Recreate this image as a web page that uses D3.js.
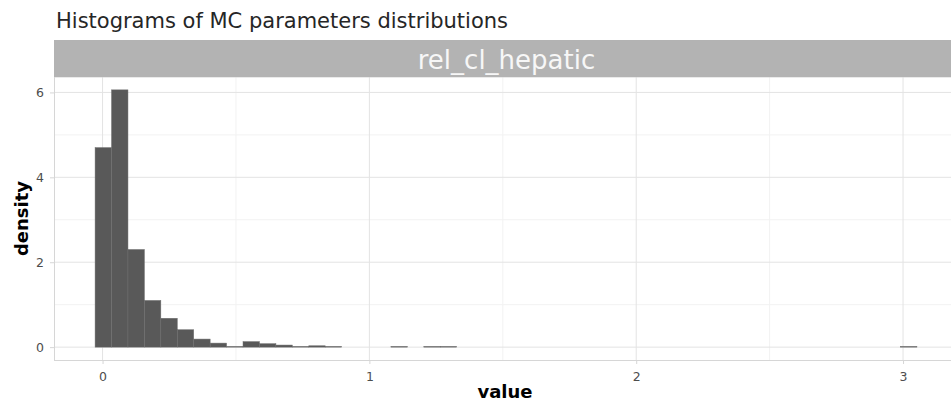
<!DOCTYPE html>
<html>
<head>
<meta charset="utf-8">
<title>Histograms of MC parameters distributions</title>
<script src="https://cdn.jsdelivr.net/npm/d3@7"></script>
<style>
body { margin: 0; background: #fff; }
svg text { font-family: "DejaVu Sans", sans-serif; }
.tick-label { fill: #4d4d4d; font-size: 12.5px; }
.axis-title { fill: #000; font-size: 18px; font-weight: bold; }
</style>
</head>
<body>
<script>
// histogram bins (left edge) and their density
var binWidth = 0.0616;
var binLeft = [-0.028, 0.0336, 0.0952, 0.1568, 0.2184, 0.280, 0.3416, 0.4032, 0.4648,
               0.5264, 0.588, 0.6496, 0.7112, 0.7728, 0.8344, 1.0808, 1.204, 1.2656, 2.9904];
var density = [4.70, 6.06, 2.30, 1.10, 0.68, 0.41, 0.19, 0.095, 0.016,
               0.13, 0.081, 0.049, 0.016, 0.032, 0.016, 0.016, 0.016, 0.016, 0.016];

var xTicks = [0, 1, 2, 3];
var xMinor = [0.5, 1.5, 2.5];
var yTicks = [0, 2, 4, 6];
var yMinor = [1, 3, 5];
var facetLabel = "rel_cl_hepatic";

var W = 951, H = 401;
var panel = {left: 54, right: 958, top: 77, bottom: 360};
var stripTop = 40;

var svg = d3.select("body").append("svg")
    .attr("width", W)
    .attr("height", H);

// ggplot-like 5% expansion
var xlo = d3.min(binLeft), xhi = d3.max(binLeft) + binWidth;
var xpad = (xhi - xlo) * 0.05;
var xScale = d3.scaleLinear()
    .domain([xlo - xpad, xhi + xpad])
    .range([panel.left, panel.right]);

var ymax = d3.max(density);
var ypad = ymax * 0.05;
var yScale = d3.scaleLinear()
    .domain([-ypad, ymax + ypad])
    .range([panel.bottom, panel.top]);

// title
svg.append("text")
    .attr("x", 56)
    .attr("y", 28)
    .style("font-size", "21px")
    .style("fill", "#262626")
    .text("Histograms of MC parameters distributions");

// grid
var g = svg.append("g");
g.selectAll(".xminor").data(xMinor).enter().append("line")
    .attr("x1", function(d) { return xScale(d); })
    .attr("x2", function(d) { return xScale(d); })
    .attr("y1", panel.top).attr("y2", panel.bottom)
    .attr("stroke", "#f2f2f2").attr("stroke-width", 1);
g.selectAll(".yminor").data(yMinor).enter().append("line")
    .attr("y1", function(d) { return yScale(d); })
    .attr("y2", function(d) { return yScale(d); })
    .attr("x1", panel.left).attr("x2", panel.right)
    .attr("stroke", "#f2f2f2").attr("stroke-width", 1);
g.selectAll(".xmajor").data(xTicks).enter().append("line")
    .attr("x1", function(d) { return xScale(d); })
    .attr("x2", function(d) { return xScale(d); })
    .attr("y1", panel.top).attr("y2", panel.bottom)
    .attr("stroke", "#e3e3e3").attr("stroke-width", 1);
g.selectAll(".ymajor").data(yTicks).enter().append("line")
    .attr("y1", function(d) { return yScale(d); })
    .attr("y2", function(d) { return yScale(d); })
    .attr("x1", panel.left).attr("x2", panel.right)
    .attr("stroke", "#e3e3e3").attr("stroke-width", 1);

// bars
svg.append("g").selectAll("rect")
    .data(binLeft)
    .enter().append("rect")
    .attr("x", function(d) { return xScale(d); })
    .attr("width", function(d) { return xScale(d + binWidth) - xScale(d); })
    .attr("y", function(d, i) { return yScale(density[i]); })
    .attr("height", function(d, i) { return yScale(0) - yScale(density[i]); })
    .attr("fill", "#595959")
    .attr("stroke", "#6e6e6e")
    .attr("stroke-width", 0.5);

// panel border (left + bottom visible, right is cut off)
svg.append("rect")
    .attr("x", panel.left + 0.5)
    .attr("y", panel.top)
    .attr("width", panel.right - panel.left)
    .attr("height", panel.bottom - panel.top + 0.5)
    .attr("fill", "none")
    .attr("stroke", "#d6d6d6")
    .attr("stroke-width", 1);

// strip
svg.append("rect")
    .attr("x", panel.left)
    .attr("y", stripTop)
    .attr("width", panel.right - panel.left)
    .attr("height", panel.top - stripTop)
    .attr("fill", "#b3b3b3");
svg.append("text")
    .attr("x", 506.5)
    .attr("y", 68.5)
    .attr("text-anchor", "middle")
    .style("font-size", "26px")
    .style("fill", "#f7f7f7")
    .text(facetLabel);

// axes
var xAxis = svg.append("g")
    .attr("transform", "translate(0," + panel.bottom + ")")
    .call(d3.axisBottom(xScale).tickValues(xTicks).tickSize(4).tickPadding(8).tickFormat(d3.format("d")));
var yAxis = svg.append("g")
    .attr("transform", "translate(" + panel.left + ",0)")
    .call(d3.axisLeft(yScale).tickValues(yTicks).tickSize(4).tickPadding(6).tickFormat(d3.format("d")));
[xAxis, yAxis].forEach(function(ax) {
  ax.select(".domain").remove();
  ax.selectAll(".tick line").attr("stroke", "#d6d6d6");
  ax.selectAll(".tick text").attr("class", "tick-label")
    .style("font-family", "DejaVu Sans, sans-serif");
  ax.attr("font-size", null).attr("font-family", null);
});

// axis titles
svg.append("text")
    .attr("class", "axis-title")
    .attr("x", 505)
    .attr("y", 398)
    .attr("text-anchor", "middle")
    .text("value");
svg.append("text")
    .attr("class", "axis-title")
    .attr("transform", "translate(28," + (panel.top + panel.bottom) / 2 + ") rotate(-90)")
    .attr("text-anchor", "middle")
    .text("density");
</script>
</body>
</html>
